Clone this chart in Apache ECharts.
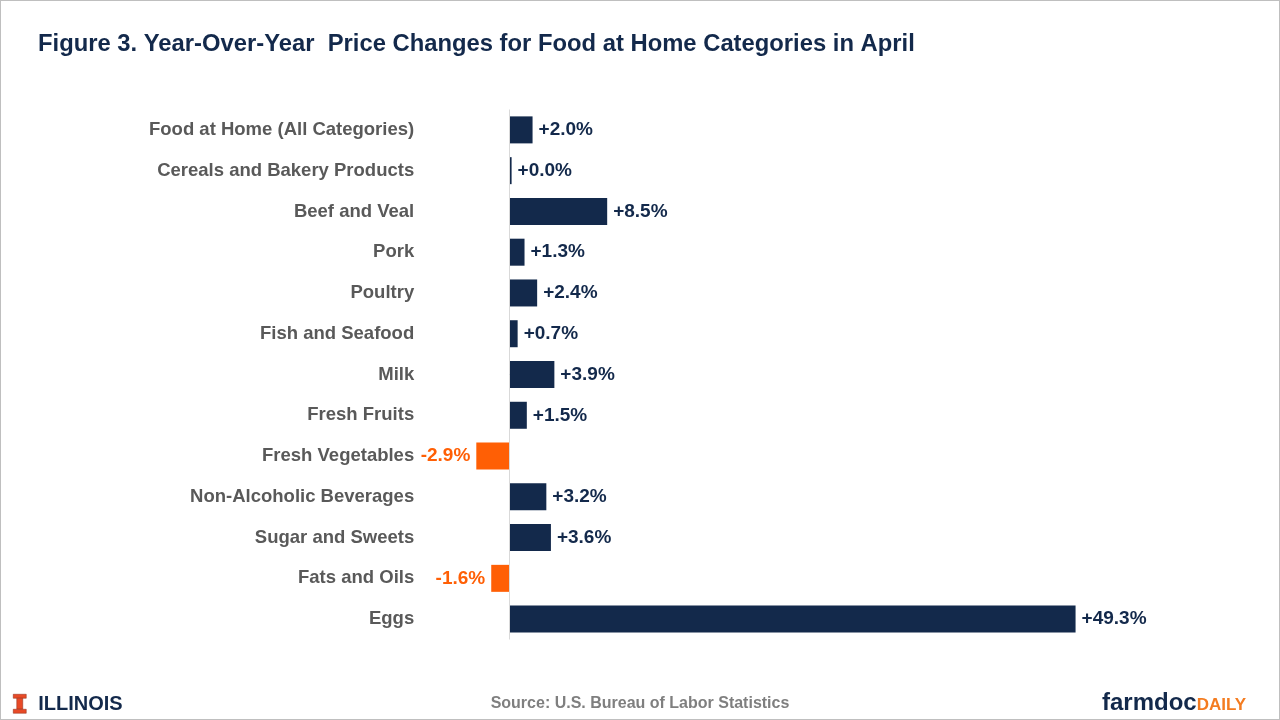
<!DOCTYPE html>
<html><head><meta charset="utf-8">
<script src="https://cdn.jsdelivr.net/npm/echarts@6/dist/echarts.min.js"></script>
<style>html,body{margin:0;padding:0;background:#fff}#c{width:1280px;height:720px;box-sizing:border-box;border:1px solid #BFBFBF}</style>
</head><body><div id="c"></div>
<script>
const categories = ["Food at Home (All Categories)","Cereals and Bakery Products","Beef and Veal","Pork","Poultry","Fish and Seafood","Milk","Fresh Fruits","Fresh Vegetables","Non-Alcoholic Beverages","Sugar and Sweets","Fats and Oils","Eggs"];
const values = [2.0, 0.0, 8.5, 1.3, 2.4, 0.7, 3.9, 1.5, -2.9, 3.2, 3.6, -1.6, 49.3];
const xTicks = [-5, 50];

const NAVY = '#13294B', ORANGE = '#FF5F05';
const FONT = '"Liberation Sans", Arial, sans-serif';
const chart = echarts.init(document.getElementById('c'));
chart.setOption({
  animation: false,
  title: {text: 'Figure 3. Year-Over-Year  Price Changes for Food at Home Categories in April', left: 37, top: 31, padding: 0,
    textStyle: {fontFamily: FONT, fontSize: 23.8, fontWeight: 'bold', color: NAVY}},
  grid: {left: 451.2, width: 631.4, top: 108.5, height: 530},
  xAxis: {type: 'value', min: xTicks[0], max: xTicks[1], show: false},
  yAxis: {type: 'category', data: categories, inverse: true,
    axisLine: {show: false}, axisTick: {show: false},
    axisLabel: {margin: 38, fontFamily: FONT, fontSize: 18.5, fontWeight: 'bold', color: '#595959'}},
  series: [{
    type: 'bar', barWidth: 27, barMinHeight: 2,
    data: values.map(v => ({value: v,
      itemStyle: {color: v < 0 ? ORANGE : NAVY},
      label: {position: v < 0 ? 'left' : 'right', color: v < 0 ? ORANGE : NAVY}})),
    label: {show: true, distance: 6, fontFamily: FONT, fontSize: 19, fontWeight: 'bold',
      formatter: p => (p.value >= 0 ? '+' : '') + p.value.toFixed(1) + '%'},
    markLine: {silent: true, symbol: 'none', label: {show: false},
      lineStyle: {color: '#D9D9D9', type: 'solid', width: 1}, data: [{xAxis: 0}]}
  }],
  graphic: [
    {type: 'text', left: 'center', top: 695, style: {text: 'Source: U.S. Bureau of Labor Statistics', font: 'bold 16px ' + FONT, fill: '#7F7F7F'}},
    {type: 'group', left: 12, top: 693, children: [
      {type: 'rect', shape: {x: 0, y: 0, width: 13, height: 4}, style: {fill: '#E84A27', stroke: '#8A2A16', lineWidth: 0.5}},
      {type: 'rect', shape: {x: 3.5, y: 4, width: 6, height: 11}, style: {fill: '#E84A27', stroke: '#8A2A16', lineWidth: 0.5}},
      {type: 'rect', shape: {x: 0, y: 15, width: 13, height: 4}, style: {fill: '#E84A27', stroke: '#8A2A16', lineWidth: 0.5}},
      {type: 'text', x: 25, y: 0, style: {text: 'ILLINOIS', font: 'bold 20px ' + FONT, fill: NAVY}}
    ]},
    {type: 'text', left: 1101, top: 690, style: {rich: {a: {font: 'bold 24px ' + FONT, fill: NAVY}, b: {font: 'bold 17px ' + FONT, fill: '#F47C20', padding: [5,0,0,0]}}, text: '{a|farmdoc}{b|DAILY}'}}
  ]
});
</script></body></html>
